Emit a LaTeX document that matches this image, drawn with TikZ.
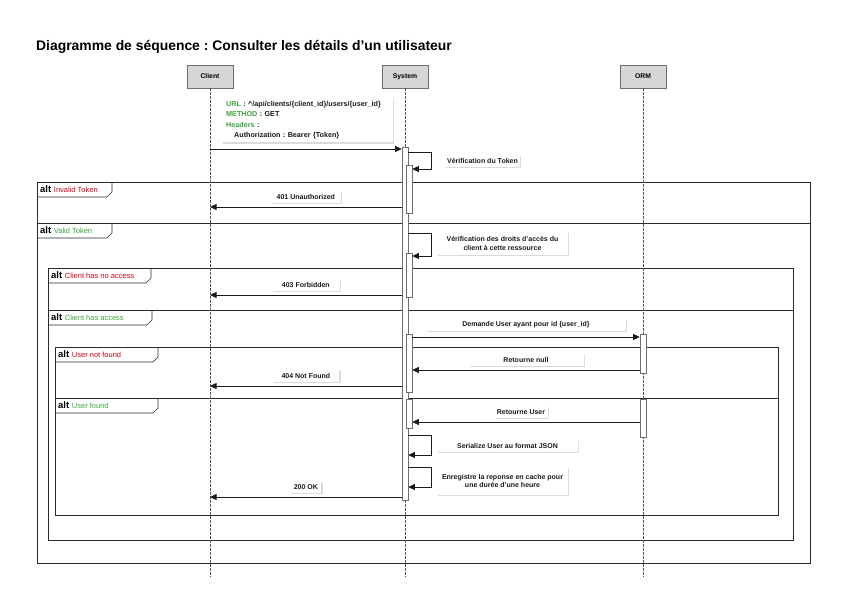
\documentclass[tikz,border=0pt]{standalone}
\usepackage{fontspec}
\setmainfont{Liberation Sans}
\frenchspacing
\usetikzlibrary{positioning,arrows.meta,shadows}
\definecolor{ink}{HTML}{1A1A1A}
\definecolor{frameline}{HTML}{2B2B2B}
\definecolor{headfill}{HTML}{D6D6D6}
\definecolor{actline}{HTML}{6E6E6E}
\definecolor{lifeline}{HTML}{555555}
\definecolor{okgreen}{HTML}{3DA33D}
\definecolor{errred}{HTML}{D0021B}
\tikzset{
  soft/.style  = {drop shadow={shadow xshift=1.2pt, shadow yshift=-1.2pt, opacity=0.14, fill=black}},
  head/.style  = {draw=actline, fill=headfill, soft, minimum width=46pt, minimum height=23pt,
                  inner sep=0pt, font=\fontsize{6.8}{8}\selectfont\bfseries},
  life/.style  = {draw=lifeline, line width=0.5pt, dash pattern=on 2.5pt off 1.5pt},
  act/.style   = {draw=actline, fill=white, minimum width=6pt, inner sep=0pt, line width=0.6pt},
  msg/.style   = {draw=ink, line width=0.7pt, -{Triangle[length=6.5pt,width=6pt]}},
  lbl/.style   = {fill=white, soft, inner sep=1.5pt, minimum height=12pt,
                  font=\fontsize{7}{8.5}\selectfont\bfseries, text=ink},
  frm/.style   = {draw=frameline, line width=1pt},
  tab/.style   = {draw=frameline, line width=0.6pt},
}

\begin{document}
\begin{tikzpicture}[x=1pt, y=-1pt,
    note/.style={fill=white, soft, anchor=north west, text width=163pt, inner xsep=4pt,
                 inner ysep=3pt, align=left, font=\fontsize{7.2}{10.5}\selectfont\bfseries, text=ink}]
    \useasboundingbox[fill=white] (0,0) rectangle (842,595);
    \node[anchor=base west, inner sep=0pt, font=\fontsize{13.9}{16}\selectfont\bfseries] (title)
      at (36,50) {Diagramme de séquence : Consulter les détails d’un utilisateur};
    % fragments
    \foreach \xa/\ya/\xb/\yb/\yd in {37/182/810/563/223, 48/268/793/540/310, 55/347/778/515/398}{
      \draw[frm] (\xa,\ya) rectangle (\xb,\yb);
      \draw[frm] (\xa,\yd) -- (\xb,\yd);}
    \foreach \x/\y/\w/\col/\cond [count=\i] in {37/182/75/errred/Invalid Token,
        37/223/75/okgreen/Valid Token, 48/268/103/errred/Client has no access,
        48/310/104/okgreen/Client has access, 55/347/103/errred/User not found,
        55/398/103/okgreen/User found}{
      \draw[tab] (\x+\w,\y) -- (\x+\w,\y+10) -- (\x+\w-5,\y+15) -- (\x,\y+15);
      \node[anchor=west, inner sep=0pt] (alt\i) at (\x+3,\y+7.5)
        {\fontsize{9.5}{10}\selectfont\bfseries alt\ \fontsize{7.5}{9}\selectfont\mdseries\textcolor{\col}{\cond}};}
    % participants
    \foreach \p/\x/\lab in {client/210/Client, system/405/System, orm/643/ORM}{
      \node[head] (\p) at (\x,76.5) {\lab};
      \draw[life] (\p.south) -- (\p.south |- 0,577);}
    \node[act, minimum height=353pt] (sa) at (405,323.5) {};
    \foreach \n/\y/\h in {n1/189/48, n2/275/44, n3/363/58, n4/413.5/29}
      \node[act, minimum height=\h*1pt] (\n) at (409,\y) {};
    \node[act, minimum height=39pt] (o1) at (643,353.5) {};
    \node[act, minimum height=38pt] (o2) at (643,418) {};
    % request
    \node[note] (req) at (222,98) {\textcolor{okgreen}{URL} : \textasciicircum/api/clients/\{client\_id\}/users/\{user\_id\}\\
      \textcolor{okgreen}{METHOD} : GET\\
      \textcolor{okgreen}{Headers} :\\
      \hspace*{8pt}Authorization : Bearer \{Token\}};
    \draw[msg] (client |- 0,149) -- (sa.west |- 0,149);
    % self calls
    \foreach \src/\dst/\ya/\yb in {sa/n1/152/169, sa/n2/233/256, sa/sa/435/455, sa/sa/467/487}
      \draw[msg] (\src.east |- 0,\ya) -- ++(23,0) |- (\dst.east |- 0,\yb);
    \node[lbl, minimum width=75pt] (vtoken) at (482.5,160.5) {Vérification du Token};
    \node[lbl, minimum width=131pt, minimum height=23pt, align=center] (vdroits) at (502.5,243.5)
      {Vérification des droits d’accès du\\client à cette ressource};
    \node[lbl, minimum width=141pt] (json) at (507.5,446) {Serialize User au format JSON};
    \node[lbl, minimum width=131pt, minimum height=28pt, align=center] (cache) at (502.5,481)
      {Enregistre la reponse en cache pour\\une durée d’une heure};
    % replies to client
    \foreach \y/\w/\txt in {207/70/401 Unauthorized, 295/68/403 Forbidden, 386/67/404 Not Found, 497/31/200 OK}
      \draw[msg] (sa.west |- 0,\y) -- node[lbl, midway, above=3.5pt, minimum width=\w*1pt] (rep\y) {\txt} (client |- 0,\y);
    % orm exchanges
    \draw[msg] (n3.east |- 0,337) -- node[lbl, midway, above=6pt, minimum width=200pt] (ask)
      {Demande User ayant pour id \{user\_id\}} (o1.west |- 0,337);
    \draw[msg] (o1.west |- 0,370) -- node[lbl, midway, above=4pt, minimum width=115pt] (nullret)
      {Retourne null} (n3.east |- 0,370);
    \draw[msg] (o2.west |- 0,422) -- node[lbl, midway, above=4pt, xshift=-5pt, minimum width=53pt] (userret)
      {Retourne User} (n4.east |- 0,422);
\end{tikzpicture}
\end{document}
